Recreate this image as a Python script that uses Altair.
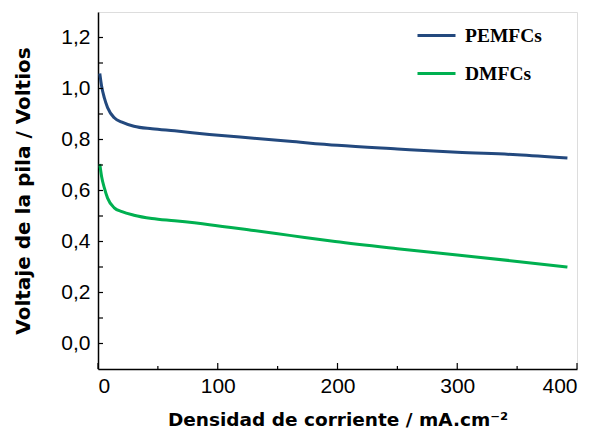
import altair as alt
import pandas as pd

# Data
x_pem = [1.5, 3, 5.3, 8, 13.6, 20, 30, 45, 64, 93, 130, 160, 200, 250, 300, 350, 392]
y_pem = [1.059, 1.01, 0.963, 0.925, 0.885, 0.868, 0.852, 0.842, 0.834, 0.820, 0.805, 0.793, 0.777, 0.763, 0.750, 0.740, 0.727]
x_dm = [1.5, 3, 5.3, 8, 13.6, 20, 30, 45, 64, 93, 130, 160, 198, 250, 300, 350, 392]
y_dm = [0.704, 0.655, 0.610, 0.570, 0.532, 0.517, 0.503, 0.490, 0.481, 0.466, 0.443, 0.424, 0.400, 0.372, 0.347, 0.322, 0.300]

series_names = ["PEMFCs", "DMFCs"]
series_colors = ["#23497e", "#00b050"]

y_tick_values = [0.0, 0.1, 0.2, 0.3, 0.4, 0.5, 0.6, 0.7, 0.8, 0.9, 1.0, 1.1, 1.2]
y_label_values = [0.0, 0.2, 0.4, 0.6, 0.8, 1.0, 1.2]
x_major_ticks = [0, 100, 200, 300, 400]
x_minor_ticks = [50, 150, 250, 350]

W, H = 479, 357

df = pd.concat([
    pd.DataFrame({"x": x_pem, "y": y_pem, "serie": "PEMFCs"}),
    pd.DataFrame({"x": x_dm, "y": y_dm, "serie": "DMFCs"}),
])

xscale = alt.Scale(domain=[0, 400], nice=False)
yscale = alt.Scale(domain=[-0.1, 1.3], nice=False)

lines = alt.Chart(df).mark_line(strokeWidth=3, interpolate="monotone", clip=True).encode(
    x=alt.X("x:Q", scale=xscale,
            axis=alt.Axis(values=x_major_ticks, title="Densidad de corriente / mA.cm⁻²",
                          grid=False, ticks=False,
                          labelFontSize=21, labelFont="Liberation Sans", labelColor="black",
                          labelPadding=6, titleFontSize=18.5, titleFont="DejaVu Sans",
                          titleFontWeight="bold", titleColor="black", titlePadding=14,
                          domainColor="black", domainWidth=1.5)),
    y=alt.Y("y:Q", scale=yscale,
            axis=alt.Axis(values=y_label_values,
                          title="Voltaje de la pila / Voltios",
                          grid=False, ticks=False,
                          labelFontSize=21, labelFont="Liberation Sans", labelColor="black",
                          labelPadding=8, titleFontSize=20, titleFont="DejaVu Sans",
                          titleFontWeight="bold", titleColor="black", titlePadding=27,
                          domainColor="black", domainWidth=1.5,
                          labelExpr="replace(format(datum.value, '.1f'), '.', ',')")),
    color=alt.Color("serie:N", scale=alt.Scale(domain=series_names, range=series_colors),
                    legend=alt.Legend(title=None, orient="none", legendX=318, legendY=3,
                                      symbolType="stroke", symbolSize=1444, symbolStrokeWidth=3,
                                      labelFont="Liberation Serif", labelFontWeight="bold",
                                      labelFontSize=19.5, labelColor="black", rowPadding=8,
                                      labelOffset=8)),
)

ytick_df = pd.DataFrame({"y": y_tick_values})
yticks = alt.Chart(ytick_df).mark_rule(color="black", strokeWidth=1.2).encode(
    y=alt.Y("y:Q", scale=yscale),
    x=alt.value(0), x2=alt.value(5),
)

xmaj_df = pd.DataFrame({"x": x_major_ticks})
xmaj = alt.Chart(xmaj_df).mark_rule(color="black", strokeWidth=1.2).encode(
    x=alt.X("x:Q", scale=xscale),
    y=alt.value(H), y2=alt.value(H - 6),
)
xmin_df = pd.DataFrame({"x": x_minor_ticks})
xmin = alt.Chart(xmin_df).mark_rule(color="black", strokeWidth=1.2).encode(
    x=alt.X("x:Q", scale=xscale),
    y=alt.value(H), y2=alt.value(H - 3),
)

chart = alt.layer(lines, yticks, xmaj, xmin).properties(
    width=W, height=H,
    autosize=alt.AutoSizeParams(type="none"),
    padding={"left": 90, "top": 4, "right": 10, "bottom": 66},
).configure_view(stroke="black", strokeWidth=1.5).configure(background="white")

chart.save("out.html", embed_options={"renderer": "svg", "actions": False})
